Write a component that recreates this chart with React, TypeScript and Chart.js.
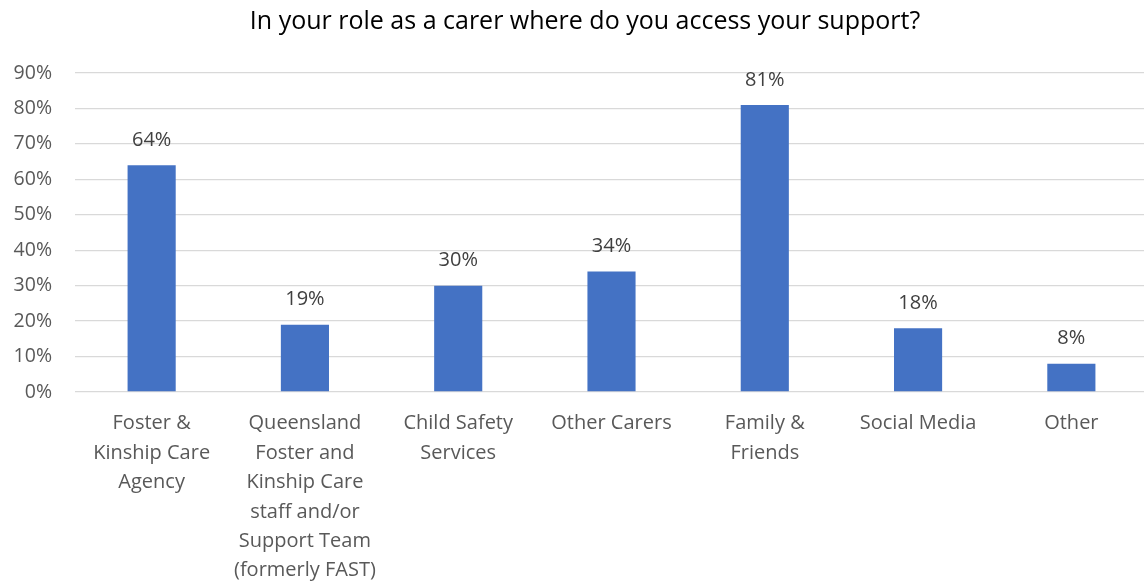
import React, { useEffect, useRef } from "react";
import { Chart, registerables } from "chart.js";

Chart.register(...registerables);

const title = "In your role as a carer where do you access your support?";
const categories: string[][] = [
  ["Foster &", "Kinship Care", "Agency"],
  ["Queensland", "Foster and", "Kinship Care", "staff and/or", "Support Team", "(formerly FAST)"],
  ["Child Safety", "Services"],
  ["Other Carers"],
  ["Family &", "Friends"],
  ["Social Media"],
  ["Other"],
];
const values: number[] = [64, 19, 30, 34, 81, 18, 8];
const yTicks: number[] = [0, 10, 20, 30, 40, 50, 60, 70, 80, 90];

const FONT = "'Open Sans', 'Liberation Sans', sans-serif";

const labelPlugin = {
  id: "barLabels",
  afterDatasetsDraw(chart: any) {
    const ctx = chart.ctx;
    const meta = chart.getDatasetMeta(0);
    ctx.save();
    ctx.font = `20px ${FONT}`;
    ctx.fillStyle = "#404040";
    ctx.textAlign = "center";
    ctx.textBaseline = "middle";
    meta.data.forEach((bar: any, i: number) => {
      ctx.fillText(`${values[i]}%`, bar.x, bar.y - 25);
    });
    ctx.restore();
  },
};

const titlePlugin = {
  id: "customTitle",
  afterDraw(chart: any) {
    const ctx = chart.ctx;
    ctx.save();
    ctx.font = `25px ${FONT}`;
    ctx.fillStyle = "#000000";
    ctx.textAlign = "center";
    ctx.textBaseline = "middle";
    ctx.fillText(title, 585, 22);
    ctx.restore();
  },
};

export default function App() {
  const ref = useRef<HTMLCanvasElement>(null);
  useEffect(() => {
    document.body.style.margin = "0";
    document.body.style.overflow = "hidden";
    const chart = new Chart(ref.current as HTMLCanvasElement, {
      type: "bar",
      data: {
        labels: categories,
        datasets: [
          {
            data: values,
            backgroundColor: "#4472C4",
            borderWidth: 0,
            categoryPercentage: 1,
            barPercentage: 0.314,
          },
        ],
      },
      options: {
        animation: false,
        responsive: false,
        maintainAspectRatio: false,
        layout: { padding: { top: 73, left: 0, right: 0, bottom: 0 } },
        plugins: {
          legend: { display: false },
          title: { display: false },
          tooltip: { enabled: false },
        },
        scales: {
          x: {
            grid: { display: false, drawTicks: false },
            border: { display: false },
            ticks: {
              color: "#595959",
              font: { family: FONT, size: 20, lineHeight: 1.47 },
              padding: 17,
              maxRotation: 0,
              minRotation: 0,
              autoSkip: false,
            },
            afterFit(scale: any) {
              scale.height = 191;
            },
          },
          y: {
            min: 0,
            max: 90,
            afterBuildTicks(scale: any) {
              scale.ticks = yTicks.map((v) => ({ value: v }));
            },
            grid: { color: "#d9d9d9", lineWidth: 1.3, drawTicks: false },
            border: { display: false },
            ticks: {
              color: "#595959",
              font: { family: FONT, size: 19.5 },
              padding: 23,
              callback: (v: any) => `${v}%`,
            },
            afterFit(scale: any) {
              scale.width = 75;
            },
          },
        },
      },
      plugins: [labelPlugin, titlePlugin],
    });
    return () => chart.destroy();
  }, []);
  return (
    <div style={{ width: 1144, height: 583, overflow: "hidden" }}>
      <canvas ref={ref} width={1148} height={583} style={{ display: "block" }} />
    </div>
  );
}
